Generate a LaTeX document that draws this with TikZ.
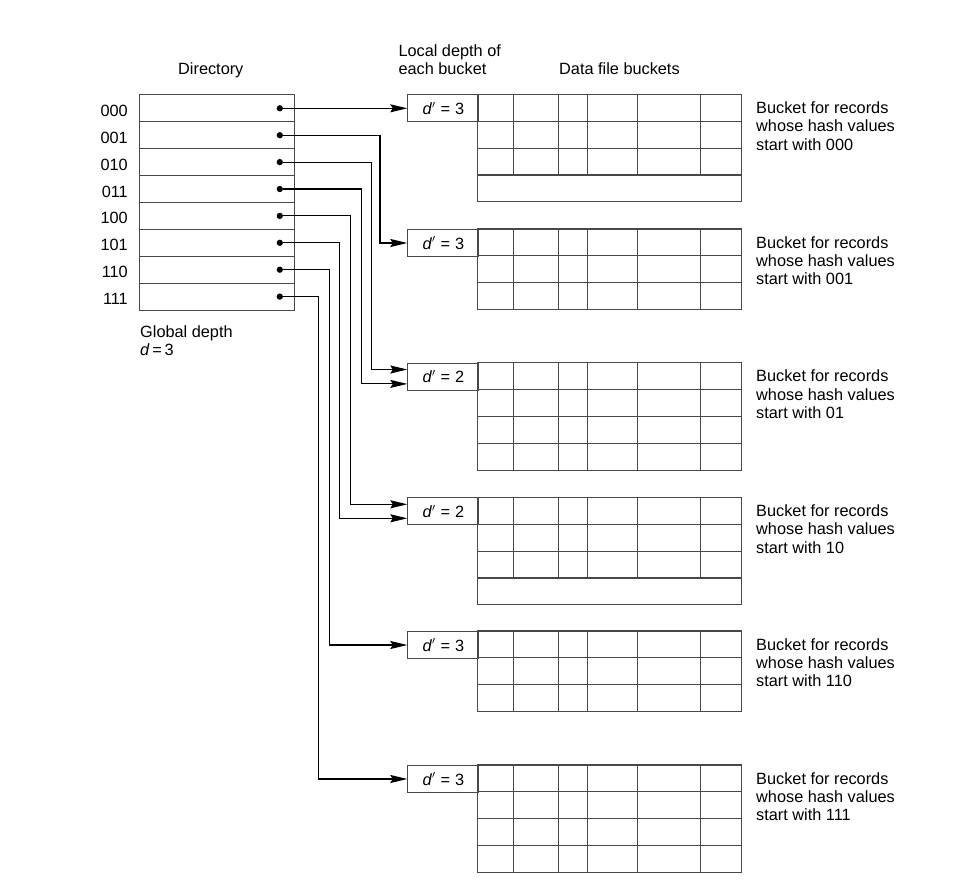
\documentclass[tikz,border=0pt]{standalone}
\usepackage{fontspec}
\setmainfont{Liberation Sans}
\usetikzlibrary{arrows.meta, positioning, calc}
\definecolor{linegray}{RGB}{72, 72, 72}
\tikzstyle{dir_row} = [rectangle, draw=linegray, line width=1.1pt, minimum width=155pt, minimum height=26.9pt, inner sep=0pt, anchor=north west]
\tikzstyle{depth_box} = [rectangle, draw=linegray, line width=1.1pt, minimum width=71pt, minimum height=26.9pt, inner sep=0pt, anchor=north west, font=\fontsize{16.3}{18.4}\selectfont]
\tikzstyle{cell_line} = [draw=linegray, line width=1.1pt]
\tikzstyle{dir_dot} = [circle, fill=black, inner sep=0pt, minimum size=6.3pt]
\tikzstyle{link} = [black, line width=1.1pt, -{Stealth[length=17pt, width=8pt, inset=2.5pt]}]
\tikzstyle{caption_text} = [font=\fontsize{16.3}{18.4}\selectfont, inner sep=0pt, align=left]

\begin{document}
\begin{tikzpicture}[x=1pt, y=-1pt]
\useasboundingbox (0,0) rectangle (953,888);

% Headings
\node[caption_text, anchor=base] (dir_title) at (210.8, 75) {Directory};
\node[caption_text, anchor=north west] (local_title) at (398.3, 44) {Local depth of\\each bucket};
\node[caption_text, anchor=base west] (data_title) at (559, 75) {Data file buckets};

% Directory entries with pointers
\foreach \bits [count=\i from 0] in {000,001,010,011,100,101,110,111} {
  \node[dir_row] (r\bits) at (139, 94.3+26.9*\i) {};
  \node[caption_text, left=11pt of r\bits, yshift=-2.4pt] (l\bits) {\bits};
  \node[dir_dot] (p\bits) at ([xshift=-15.3pt]r\bits.east) {};
}
\node[caption_text, anchor=north west] (global_depth) at (140, 325) {Global depth\\\textit{d}\,=\,3};

% Data file buckets
\foreach \name/\top/\rows/\extra/\dval/\prefix in {b1/94.3/3/1/3/000, b2/229/3/0/3/001, b3/362.7/4/0/2/01, b4/497.3/3/1/2/10, b5/631/3/0/3/110, b6/765/4/0/3/111} {
  \node[depth_box] (\name) at (407.3, \top) {\textit{d}$'$\hspace{5pt}=\hspace{5pt}\dval};
  \pgfmathsetmacro\gridbot{\top+26.9*\rows}
  \pgfmathsetmacro\fullbot{\top+26.9*(\rows+\extra)}
  \pgfmathtruncatemacro\lastrow{\rows+\extra-1}
  \draw[cell_line] (477.7, \top) rectangle (741.7, \fullbot);
  \foreach \x in {513.3, 558.7, 587.7, 637.3, 700.7}
    \draw[cell_line] (\x, \top) -- (\x, \gridbot);
  \foreach \j in {1,...,\lastrow}
    \draw[cell_line] (477.7, \top+26.9*\j) -- (741.7, \top+26.9*\j);
  \node[caption_text, anchor=north west] (t\name) at (756, \top+7.1) {Bucket for records\\whose hash values\\start with \prefix};
}

% Pointers from directory to buckets
\draw[link] (p000) -- (b1.west);
\draw[link] (p001) -| ([xshift=-27.3pt]b2.west) -- (b2.west);
\draw[link] (p010) -| ([xshift=-35.6pt, yshift=7.2pt]b3.west) -- ([yshift=7.2pt]b3.west);
\draw[link] (p011) -| ([xshift=-45.6pt, yshift=-7.2pt]b3.west) -- ([yshift=-7.2pt]b3.west);
\draw[link] (p100) -| ([xshift=-57pt, yshift=7pt]b4.west) -- ([yshift=7pt]b4.west);
\draw[link] (p101) -| ([xshift=-68pt, yshift=-7pt]b4.west) -- ([yshift=-7pt]b4.west);
\draw[link] (p110) -| ([xshift=-78pt]b5.west) -- (b5.west);
\draw[link] (p111) -| ([xshift=-88.6pt]b6.west) -- (b6.west);

\end{tikzpicture}
\end{document}
